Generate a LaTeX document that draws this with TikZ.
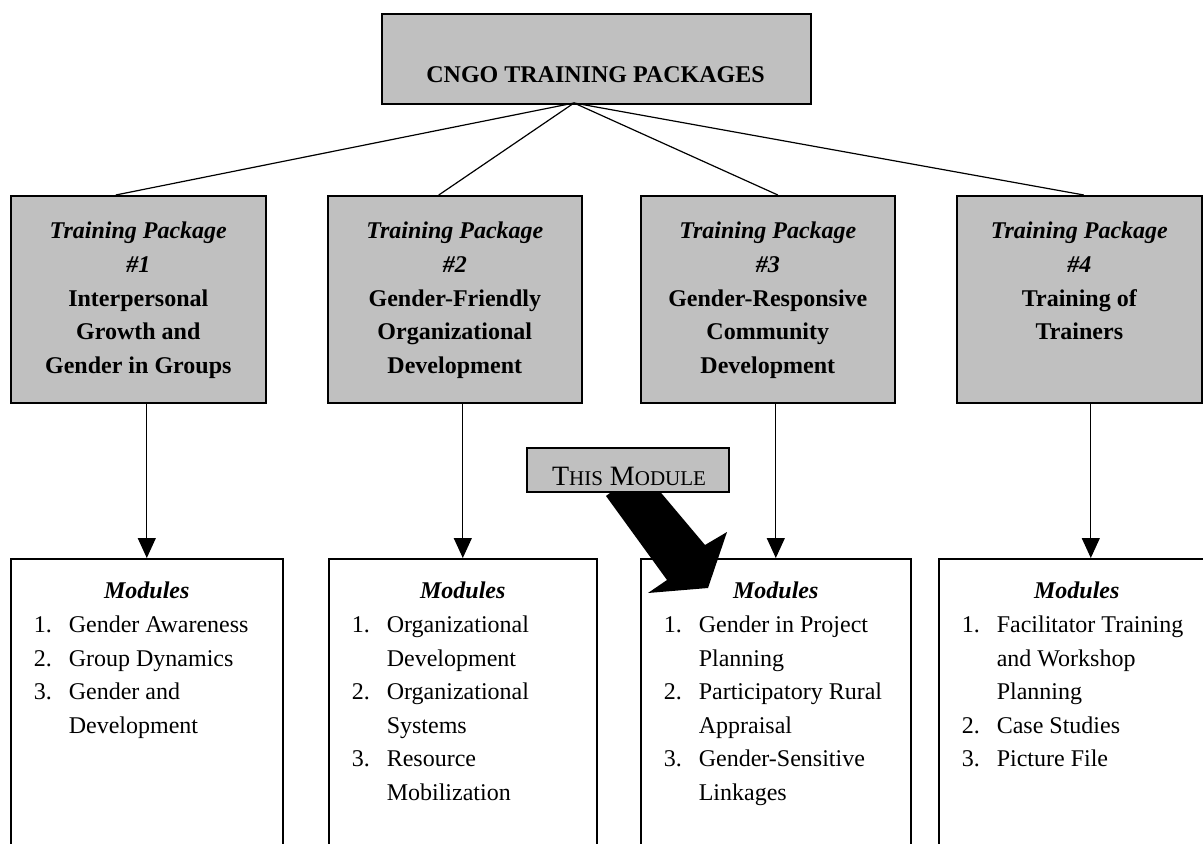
\documentclass[tikz,border=0pt]{standalone}
\usepackage{fontspec}
\setmainfont{Liberation Serif}
\usepackage{xcolor}
\usepackage{tikz}
\usetikzlibrary{arrows.meta,calc}
\definecolor{boxgray}{HTML}{C0C0C0}
\newcommand{\moditem}[2]{\hspace*{11.5pt}\makebox[17.5pt][l]{#1}#2\par}
\newcommand{\modcont}[1]{\hspace*{29pt}#1\par}
\newcommand{\modhead}{{\centering\rule{0pt}{20pt}\textbf{\textit{Modules}}\par}}
\newcommand{\smallcap}[1]{{\fontsize{10.5}{12}\selectfont #1}}

\begin{document}
\begin{tikzpicture}[x=0.5pt,y=-0.5pt,
    pkgbox/.style={draw,fill=boxgray,line width=0.8pt,inner sep=0pt,anchor=north west},
    modbox/.style={draw,fill=white,line width=0.8pt,inner sep=0pt,anchor=north west},
    link/.style={line width=0.6pt},
    down/.style={line width=0.6pt,-{Triangle[width=9pt,length=10pt]}},
    font=\fontsize{12}{16.8}\selectfont]
      \useasboundingbox (0,0) rectangle (1203,844);
      \clip (0,0) rectangle (1203,844);
      % top
      \node[pkgbox,minimum width=214.5pt,minimum height=45pt] (top) at (381,13) {};
      \node[anchor=base,font=\fontsize{12}{14}\selectfont\bfseries] (toptxt) at (595.5,83) {CNGO TRAINING PACKAGES};
      \coordinate (hub) at (574,103);
      % packages
      \node[pkgbox] (pkg1) at (10,195) {\parbox[c][103.5pt][t]{127.5pt}{\centering\bfseries\rule{0pt}{21.5pt}\textit{Training Package}\\\textit{\#1}\\Interpersonal\\Growth and\\Gender in Groups}};
      \node[pkgbox] (pkg2) at (327,195) {\parbox[c][103.5pt][t]{127pt}{\centering\bfseries\rule{0pt}{21.5pt}\textit{Training Package}\\\textit{\#2}\\Gender-Friendly\\Organizational\\Development}};
      \node[pkgbox] (pkg3) at (640,195) {\parbox[c][103.5pt][t]{127pt}{\centering\bfseries\rule{0pt}{21.5pt}\textit{Training Package}\\\textit{\#3}\\Gender-Responsive\\Community\\Development}};
      \node[pkgbox] (pkg4) at (956,195) {\parbox[c][103.5pt][t]{122.5pt}{\centering\bfseries\rule{0pt}{21.5pt}\textit{Training Package}\\\textit{\#4}\\Training of\\Trainers}};
      \draw[link] (hub) -- ([xshift=-11.25pt]pkg1.north);
      \draw[link] (hub) -- ([xshift=-8pt]pkg2.north);
      \draw[link] (hub) -- ([xshift=5pt]pkg3.north);
      \draw[link] (hub) -- ([xshift=2.25pt]pkg4.north);
      % modules
      \node[modbox] (mod1) at (10,558) {\parbox[c][171pt][t]{136pt}{\modhead
        \moditem{1.}{Gender Awareness}
        \moditem{2.}{Group Dynamics}
        \moditem{3.}{Gender and}
        \modcont{Development}}};
      \node[modbox] (mod2) at (328,558) {\parbox[c][171pt][t]{134pt}{\modhead
        \moditem{1.}{Organizational}
        \modcont{Development}
        \moditem{2.}{Organizational}
        \modcont{Systems}
        \moditem{3.}{Resource}
        \modcont{Mobilization}}};
      \node[modbox] (mod3) at (640,558) {\parbox[c][171pt][t]{135pt}{\modhead
        \moditem{1.}{Gender in Project}
        \modcont{Planning}
        \moditem{2.}{Participatory Rural}
        \modcont{Appraisal}
        \moditem{3.}{Gender-Sensitive}
        \modcont{Linkages}}};
      \node[modbox] (mod4) at (938,558) {\parbox[c][171pt][t]{138pt}{\modhead
        \moditem{1.}{Facilitator Training}
        \modcont{and Workshop}
        \modcont{Planning}
        \moditem{2.}{Case Studies}
        \moditem{3.}{Picture File}}};
      \draw[down] (pkg1.south -| mod1.north) -- (mod1.north);
      \draw[down] (pkg2.south -| mod2.north) -- (mod2.north);
      \draw[down] (pkg3.south -| mod3.north) -- (mod3.north);
      \draw[down] ([xshift=7pt]mod4.north |- pkg4.south) -- ([xshift=7pt]mod4.north);
      % this module
      \fill (606,496) -- (641,469) -- (705,545) -- (727,532) -- (708,588) -- (648,593) -- (667,580) -- cycle;
      \node[pkgbox,minimum width=101pt,minimum height=22pt] (thisbox) at (526,447) {};
      \node[anchor=base] (thistxt) at (629,485) {\fontsize{14}{16}\selectfont T\smallcap{HIS} M\smallcap{ODULE}};
\end{tikzpicture}
\end{document}
